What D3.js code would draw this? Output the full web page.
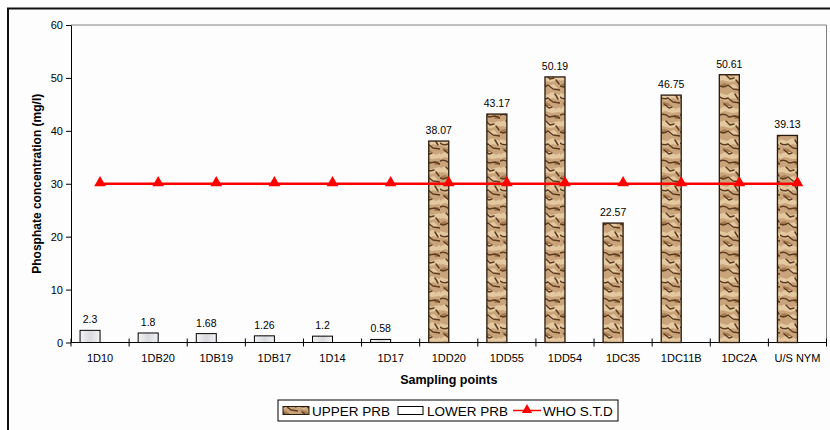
<!DOCTYPE html>
<html>
<head>
<meta charset="utf-8">
<script src="https://cdn.jsdelivr.net/npm/d3@7"></script>
<style>
  html, body { margin: 0; padding: 0; background: #fff; }
  svg { display: block; font-family: "Liberation Sans", Arial, sans-serif; }
</style>
</head>
<body>
<svg id="chart" width="830" height="430"></svg>
<script>
// Sampling points along the river reach
const categories = ["1D10", "1DB20", "1DB19", "1DB17", "1D14", "1D17",
  "1DD20", "1DD55", "1DD54", "1DC35", "1DC11B", "1DC2A", "U/S NYM"];
// Phosphate concentration (mg/l) per reach; null where the point is not in that reach
const upperPRB = [null, null, null, null, null, null,
  38.07, 43.17, 50.19, 22.57, 46.75, 50.61, 39.13];
const lowerPRB = [2.3, 1.8, 1.68, 1.26, 1.2, 0.58,
  null, null, null, null, null, null, null];
// WHO standard guideline value
const whoStd = [30, 30, 30, 30, 30, 30, 30, 30, 30, 30, 30, 30, 30];
const yTicks = [0, 10, 20, 30, 40, 50, 60];

const svg = d3.select("#chart");
const m = { left: 71, right: 826.5, top: 25, bottom: 342.5 };

const x = d3.scaleBand().domain(categories).range([m.left, m.right]).padding(0);
const y = d3.scaleLinear().domain([0, 60]).range([m.bottom, m.top]);
const barW = 20;

// Outer frame
svg.append("rect").attr("x", 8).attr("y", 8.5).attr("width", 830).attr("height", 430)
  .attr("fill", "#fdfdfd").attr("stroke", "#111").attr("stroke-width", 2);

// Textures: rough sandstone fill for the upper reach bars
const defs = svg.append("defs");
const tex = defs.append("pattern").attr("id", "wood")
  .attr("patternUnits", "userSpaceOnUse").attr("width", 20).attr("height", 46);
tex.append("rect").attr("width", 20).attr("height", 46).attr("fill", "#c9a47a");
const light = [
  "M0,1 L7,3 L12,0 L20,3 L20,8 L13,6 L6,9 L0,7Z",
  "M3,15 L9,13 L16,17 L20,15 L20,20 L12,21 L5,19 L0,21 L0,17Z",
  "M0,30 L6,28 L11,31 L20,29 L20,34 L10,36 L2,34 L0,35Z",
  "M8,40 L14,38 L18,42 L12,44Z"
];
light.forEach(d => tex.append("path").attr("d", d).attr("fill", "#e4c8a0"));
const mid = [
  "M2,10 L8,11 L12,14 L6,14Z",
  "M13,24 L19,23 L20,27 L15,27Z",
  "M1,38 L6,37 L7,41 L2,42Z"
];
mid.forEach(d => tex.append("path").attr("d", d).attr("fill", "#a67c50"));
const dark = [
  "M0,5 Q4,8 8,6 L13,10 L20,11",
  "M4,12 L9,16 L12,15",
  "M0,23 Q5,21 9,25 L15,24 L20,26",
  "M6,29 L10,33 L14,32",
  "M0,40 Q4,42 8,39 L13,43 L20,44",
  "M15,2 L18,7",
  "M16,34 L19,38"
];
dark.forEach(d => tex.append("path").attr("d", d).attr("fill", "none")
  .attr("stroke", "#5e3c20").attr("stroke-width", 1.5).attr("stroke-linecap", "round")
  .attr("stroke-linejoin", "round"));

const grad = defs.append("linearGradient").attr("id", "pale")
  .attr("x1", 0).attr("x2", 1).attr("y1", 0).attr("y2", 0);
grad.append("stop").attr("offset", "0%").attr("stop-color", "#f4f4f6");
grad.append("stop").attr("offset", "50%").attr("stop-color", "#d9dade");
grad.append("stop").attr("offset", "100%").attr("stop-color", "#f2f2f4");

// Plot area border (top and right)
svg.append("path")
  .attr("d", `M${m.left},${m.top}H${m.right}V${m.bottom}`)
  .attr("fill", "none").attr("stroke", "#808080").attr("stroke-width", 1);

// Y axis
const yAxis = svg.append("g").attr("transform", `translate(${m.left},0)`)
  .call(d3.axisLeft(y).tickValues(yTicks).tickSize(5).tickSizeOuter(0));
yAxis.select(".domain").attr("stroke", "#000");
yAxis.selectAll("text").attr("font-size", 11).attr("fill", "#000")
  .attr("font-family", "Liberation Sans, Arial, sans-serif");

// X axis with ticks between categories
const xAxis = svg.append("g").attr("transform", `translate(0,${m.bottom})`);
xAxis.append("line").attr("x1", m.left).attr("x2", m.right)
  .attr("stroke", "#000").attr("stroke-width", 1.2);
const boundaries = categories.map(c => x(c)).concat([m.right]);
xAxis.selectAll("line.tk").data(boundaries).join("line").attr("class", "tk")
  .attr("x1", d => d).attr("x2", d => d).attr("y1", -4).attr("y2", 4)
  .attr("stroke", "#000");
xAxis.selectAll("text").data(categories).join("text")
  .attr("x", d => x(d) + x.bandwidth() / 2).attr("y", 19)
  .attr("text-anchor", "middle").attr("font-size", 11).attr("fill", "#000")
  .text(d => d);

// Bars
const upperData = categories.map((c, i) => ({ c, v: upperPRB[i] })).filter(d => d.v != null);
const lowerData = categories.map((c, i) => ({ c, v: lowerPRB[i] })).filter(d => d.v != null);
const barX = c => x(c) + x.bandwidth() / 2 - barW;

svg.append("g").selectAll("rect").data(upperData).join("rect")
  .attr("x", d => barX(d.c)).attr("y", d => y(d.v))
  .attr("width", barW).attr("height", d => y(0) - y(d.v))
  .attr("fill", "url(#wood)").attr("stroke", "#2a1a0e").attr("stroke-width", 1.3);

svg.append("g").selectAll("rect").data(lowerData).join("rect")
  .attr("x", d => barX(d.c)).attr("y", d => y(d.v))
  .attr("width", barW).attr("height", d => y(0) - y(d.v))
  .attr("fill", "url(#pale)").attr("stroke", "#000").attr("stroke-width", 1);

// Value labels
const labelData = upperData.concat(lowerData);
svg.append("g").selectAll("text").data(labelData).join("text")
  .attr("x", d => barX(d.c) + barW / 2).attr("y", d => y(d.v) - 7)
  .attr("text-anchor", "middle").attr("font-size", 10.5).attr("fill", "#000")
  .text(d => d.v);

// WHO standard line with triangle markers
const whoData = categories.map((c, i) => ({ c, v: whoStd[i] }));
const cx = c => x(c) + x.bandwidth() / 2;
svg.append("path").datum(whoData)
  .attr("d", d3.line().x(d => cx(d.c)).y(d => y(d.v)))
  .attr("fill", "none").attr("stroke", "#ff0000").attr("stroke-width", 2.5);
const tri = d3.symbol().type(d3.symbolTriangle).size(60);
svg.append("g").selectAll("path").data(whoData).join("path")
  .attr("transform", d => `translate(${cx(d.c)},${y(d.v) - 1})`)
  .attr("d", tri).attr("fill", "#ff0000");

// Axis titles
svg.append("text").attr("x", (m.left + m.right) / 2).attr("y", 384)
  .attr("text-anchor", "middle").attr("font-size", 12.5).attr("font-weight", "bold")
  .text("Sampling points");
svg.append("text").attr("transform", `translate(41,${(m.top + m.bottom) / 2}) rotate(-90)`)
  .attr("text-anchor", "middle").attr("font-size", 12).attr("font-weight", "bold")
  .text("Phosphate concentration (mg/l)");

// Legend
const lg = svg.append("g").attr("transform", "translate(278,400)");
lg.append("rect").attr("width", 340).attr("height", 21).attr("fill", "#fff")
  .attr("stroke", "#000").attr("stroke-width", 1);
lg.append("rect").attr("x", 5).attr("y", 6.5).attr("width", 26).attr("height", 8)
  .attr("fill", "url(#wood)").attr("stroke", "#2a1a0e");
lg.append("text").attr("x", 34).attr("y", 15.5).attr("font-size", 13.5).text("UPPER PRB");
lg.append("rect").attr("x", 120).attr("y", 6.5).attr("width", 25).attr("height", 8)
  .attr("fill", "#fff").attr("stroke", "#000");
lg.append("text").attr("x", 149).attr("y", 15.5).attr("font-size", 13.5).text("LOWER PRB");
lg.append("line").attr("x1", 235).attr("x2", 263).attr("y1", 10.5).attr("y2", 10.5)
  .attr("stroke", "#ff0000").attr("stroke-width", 1.5);
lg.append("path").attr("transform", "translate(249,10)")
  .attr("d", d3.symbol().type(d3.symbolTriangle).size(45)).attr("fill", "#ff0000");
lg.append("text").attr("x", 265).attr("y", 15.5).attr("font-size", 13.5).text("WHO S.T.D");
</script>
</body>
</html>
